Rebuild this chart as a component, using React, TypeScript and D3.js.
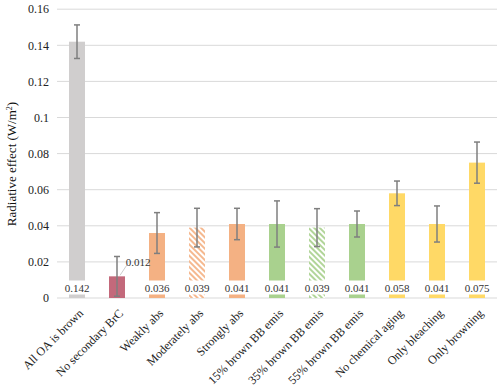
import React from "react";
import * as d3 from "d3";

const categories = [
  "All OA is brown",
  "No secondary BrC",
  "Weakly abs",
  "Moderately abs",
  "Strongly abs",
  "15% brown BB emis",
  "35% brown BB emis",
  "55% brown BB emis",
  "No chemical aging",
  "Only bleaching",
  "Only browning",
];
const values = [0.142, 0.012, 0.036, 0.039, 0.041, 0.041, 0.039, 0.041, 0.058, 0.041, 0.075];
const errors = [0.0093, 0.011, 0.0113, 0.0107, 0.0087, 0.0128, 0.0105, 0.0072, 0.0068, 0.01, 0.0114];
const labels = ["0.142", "0.012", "0.036", "0.039", "0.041", "0.041", "0.039", "0.041", "0.058", "0.041", "0.075"];
const colors = ["#D0CECE", "#C3697B", "#F4B183", "#F4B183", "#F4B183", "#A9D18E", "#A9D18E", "#A9D18E", "#FFD966", "#FFD966", "#FFD966"];
const hatched = [false, false, false, true, false, false, true, false, false, false, false];
const yTicks = [0, 0.02, 0.04, 0.06, 0.08, 0.1, 0.12, 0.14, 0.16];
const yTickLabels = ["0", "0.02", "0.04", "0.06", "0.08", "0.1", "0.12", "0.14", "0.16"];

const W = 500;
const H = 386;
const FONT = "'Liberation Serif', 'Times New Roman', serif";

export default function App() {
  const x = d3.scaleBand<string>().domain(categories).range([57, 497]).paddingInner(0.6).paddingOuter(0.3);
  const y = d3.scaleLinear().domain([0, 0.16]).range([298, 9.2]);
  const bw = x.bandwidth();

  return (
    <div style={{ position: "absolute", left: 0, top: 0 }}>
      <svg width={W} height={H} style={{ display: "block", fontFamily: FONT }}>
        <defs>
          {colors.map((c, i) =>
            hatched[i] ? (
              <pattern
                key={i}
                id={`hatch${i}`}
                patternUnits="userSpaceOnUse"
                width={4}
                height={4}
                patternTransform="rotate(-45)"
              >
                <rect width={4} height={4} fill="#fff" />
                <line x1={1} y1={0} x2={1} y2={4} stroke={c} strokeWidth={1.8} />
              </pattern>
            ) : null
          )}
        </defs>
        <rect width={W} height={H} fill="#fff" />
        {yTicks.map((t, i) => (
          <line key={i} x1={57} x2={497} y1={y(t)} y2={y(t)} stroke="#D9D9D9" strokeWidth={1} />
        ))}
        {yTicks.map((t, i) => (
          <text key={i} x={49} y={y(t)} dy="0.35em" textAnchor="end" fontSize={12} fill="#222">
            {yTickLabels[i]}
          </text>
        ))}
        <text
          transform={`translate(16,164) rotate(-90)`}
          textAnchor="middle"
          fontSize={13}
          fill="#111"
        >
          Radiative effect (W/m
          <tspan baselineShift="super" fontSize={8}>2</tspan>)
        </text>
        {categories.map((c, i) => (
          <rect
            key={c}
            x={x(c)!}
            y={y(values[i])}
            width={bw}
            height={y(0) - y(values[i])}
            fill={hatched[i] ? `url(#hatch${i})` : colors[i]}
          />
        ))}
        {categories.map((c, i) => {
          if (i === 1) return null;
          const cx = x(c)! + bw / 2;
          return (
            <g key={c}>
              <rect x={cx - 14} y={280.5} width={28} height={14} fill="#fff" />
              <text x={cx} y={288} dy="0.35em" textAnchor="middle" fontSize={11} fill="#333">
                {labels[i]}
              </text>
            </g>
          );
        })}
        {(() => {
          const c = categories[1];
          const cx = x(c)! + bw / 2;
          return (
            <g>
              <line x1={cx + 3} y1={y(values[1]) - 1} x2={cx + 11} y2={y(values[1]) - 13} stroke="#BFBFBF" strokeWidth={0.8} />
              <text x={cx + 21} y={262} dy="0.35em" textAnchor="middle" fontSize={11} fill="#333">
                {labels[1]}
              </text>
            </g>
          );
        })()}
        {categories.map((c, i) => {
          const cx = x(c)! + bw / 2;
          const top = y(values[i] + errors[i]);
          const bot = y(Math.max(0, values[i] - errors[i]));
          return (
            <g key={c} stroke="#7F7F7F" strokeWidth={1.5}>
              <line x1={cx} x2={cx} y1={top} y2={bot} />
              <line x1={cx - 3} x2={cx + 3} y1={top} y2={top} />
              <line x1={cx - 3} x2={cx + 3} y1={bot} y2={bot} />
            </g>
          );
        })}
        {categories.map((c) => {
          const cx = x(c)! + bw / 2;
          return (
            <text
              key={c}
              transform={`translate(${cx + 4},${311}) rotate(-45)`}
              textAnchor="end"
              dy="0.35em"
              fontSize={12}
              fill="#222"
            >
              {c}
            </text>
          );
        })}
      </svg>
    </div>
  );
}
